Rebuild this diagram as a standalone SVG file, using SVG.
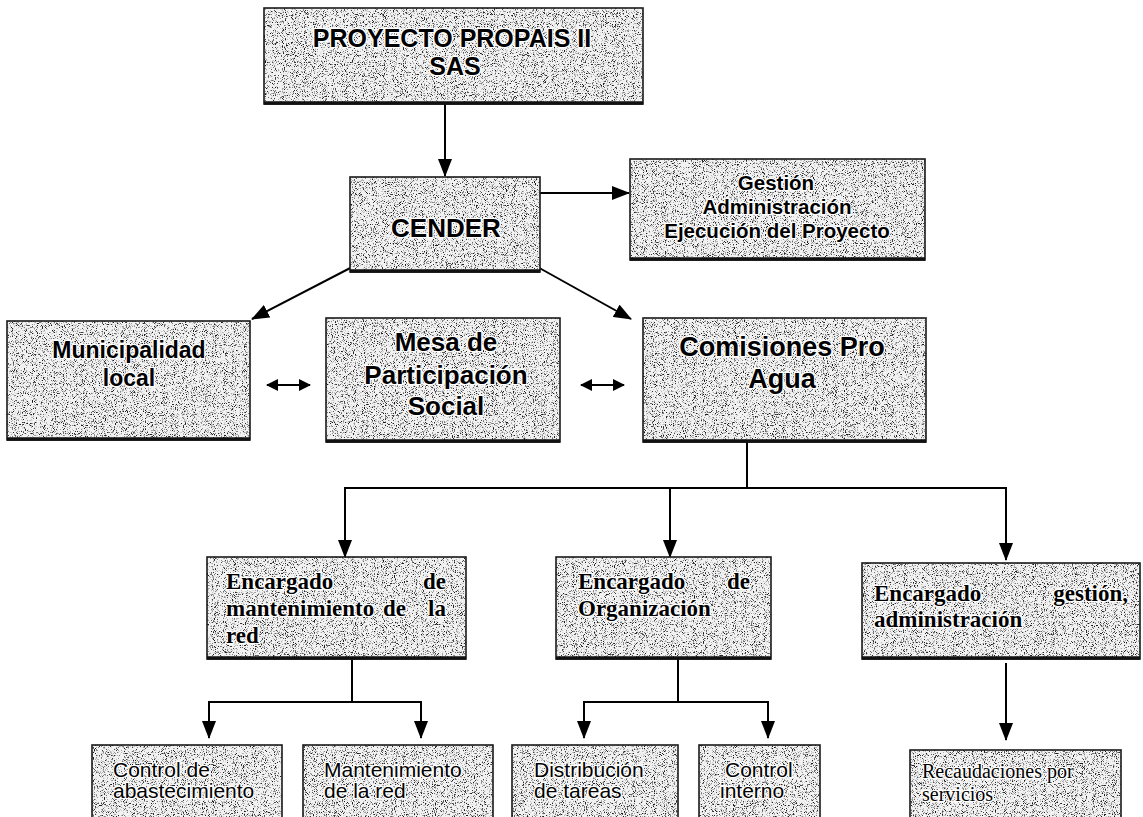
<svg xmlns="http://www.w3.org/2000/svg" width="1143" height="817" viewBox="0 0 1143 817">
<defs>
<style>
.bx{fill:#f2f2f2;filter:url(#grain)}
.bd{fill:none;stroke:#1a1a1a;stroke-width:1.6}
.bb{stroke:#111;stroke-width:3.5}
.sb{font-family:"Liberation Sans",Arial,sans-serif;font-weight:bold;fill:#000;stroke:#fff;stroke-width:2.5;paint-order:stroke;stroke-linejoin:round}
.sr{font-family:"Liberation Sans",Arial,sans-serif;fill:#000;stroke:#fff;stroke-width:2.5;paint-order:stroke;stroke-linejoin:round}
.tb{font-family:"Liberation Serif","Times New Roman",serif;font-weight:bold;fill:#000;stroke:#fff;stroke-width:2.5;paint-order:stroke;stroke-linejoin:round}
.tr{font-family:"Liberation Serif","Times New Roman",serif;fill:#000;stroke:#fff;stroke-width:2.5;paint-order:stroke;stroke-linejoin:round}
.c{text-anchor:middle}
.e{text-anchor:end}
.ln{fill:none;stroke:#000;stroke-width:2}
</style>
<filter id="grain" x="0" y="0" width="100%" height="100%" color-interpolation-filters="sRGB">
<feTurbulence type="fractalNoise" baseFrequency="1.1" numOctaves="2" seed="4" result="noise"/>
<feColorMatrix in="noise" type="matrix" values="0 0 0 0 0.1  0 0 0 0 0.1  0 0 0 0 0.1  -5 0 0 0 2.3" result="dots"/>
<feComposite in="dots" in2="SourceGraphic" operator="in" result="clip"/>
<feMerge><feMergeNode in="SourceGraphic"/><feMergeNode in="clip"/></feMerge>
</filter>
<marker id="ah" viewBox="0 0 18 14" markerWidth="18" markerHeight="14" refX="17" refY="7" orient="auto" markerUnits="userSpaceOnUse">
<path d="M0,0 L18,7 L0,14 z" fill="#000"/>
</marker>
<marker id="ad" viewBox="0 0 12 12" markerWidth="12" markerHeight="12" refX="11" refY="6" orient="auto-start-reverse" markerUnits="userSpaceOnUse">
<path d="M0,0 L12,6 L0,12 z" fill="#000"/>
</marker>
</defs>
<rect width="1143" height="817" fill="#fff"/>

<g id="connectors">
<line class="ln" x1="445" y1="104" x2="445" y2="176" marker-end="url(#ah)"/>
<line class="ln" x1="540" y1="193" x2="629" y2="193" marker-end="url(#ah)"/>
<line class="ln" x1="356" y1="265" x2="252" y2="319" marker-end="url(#ah)"/>
<line class="ln" x1="534" y1="265" x2="631" y2="319" marker-end="url(#ah)"/>
<line class="ln" x1="267" y1="385" x2="310" y2="385" marker-start="url(#ad)" marker-end="url(#ad)"/>
<line class="ln" x1="581" y1="385" x2="624" y2="385" marker-start="url(#ad)" marker-end="url(#ad)"/>
<polyline class="ln" points="747,442 747,488"/>
<polyline class="ln" points="345,557 345,488 1006,488 1006,560" marker-end="url(#ah)"/>
<line class="ln" x1="345" y1="488" x2="345" y2="557" marker-end="url(#ah)"/>
<line class="ln" x1="670" y1="488" x2="670" y2="557" marker-end="url(#ah)"/>
<line class="ln" x1="352" y1="659" x2="352" y2="702"/>
<polyline class="ln" points="209,738 209,702 421,702 421,738" marker-end="url(#ah)"/>
<line class="ln" x1="209" y1="702" x2="209" y2="738" marker-end="url(#ah)"/>
<line class="ln" x1="678" y1="659" x2="678" y2="702"/>
<polyline class="ln" points="584,738 584,702 768,702 768,738" marker-end="url(#ah)"/>
<line class="ln" x1="584" y1="702" x2="584" y2="738" marker-end="url(#ah)"/>
<line class="ln" x1="1006" y1="663" x2="1006" y2="740" marker-end="url(#ah)"/>
</g>

<g id="n-propais">
<rect class="bx" x="264" y="8" width="379" height="96"/>
<rect class="bd" x="264" y="8" width="379" height="96"/>
<line class="bb" x1="264" y1="103" x2="643" y2="103"/>
<text class="sb c" x="452" y="47" font-size="25">PROYECTO PROPAIS II</text>
<text class="sb c" x="455" y="75" font-size="25">SAS</text>
</g>

<g id="n-cender">
<rect class="bx" x="350" y="177" width="190" height="95"/>
<rect class="bd" x="350" y="177" width="190" height="95"/>
<line class="bb" x1="350" y1="271" x2="540" y2="271"/>
<text class="sb c" x="446" y="237" font-size="26">CENDER</text>
</g>

<g id="n-gestion">
<rect class="bx" x="630" y="159" width="295" height="101"/>
<rect class="bd" x="630" y="159" width="295" height="101"/>
<line class="bb" x1="630" y1="259" x2="925" y2="259"/>
<text class="sb c" x="776" y="190" font-size="20.5">Gestión</text>
<text class="sb c" x="777" y="214" font-size="20.5">Administración</text>
<text class="sb c" x="777" y="238" font-size="20.5">Ejecución del Proyecto</text>
</g>

<g id="n-municipalidad">
<rect class="bx" x="7" y="321" width="243" height="119"/>
<rect class="bd" x="7" y="321" width="243" height="119"/>
<line class="bb" x1="7" y1="439" x2="250" y2="439"/>
<text class="sb c" x="129" y="358" font-size="23">Municipalidad</text>
<text class="sb c" x="129" y="386" font-size="23">local</text>
</g>

<g id="n-mesa">
<rect class="bx" x="326" y="318" width="234" height="124"/>
<rect class="bd" x="326" y="318" width="234" height="124"/>
<line class="bb" x1="326" y1="441" x2="560" y2="441"/>
<text class="sb c" x="446" y="351" font-size="26">Mesa de</text>
<text class="sb c" x="446" y="384" font-size="26">Participación</text>
<text class="sb c" x="446" y="415" font-size="26">Social</text>
</g>

<g id="n-comisiones">
<rect class="bx" x="643" y="318" width="283" height="124"/>
<rect class="bd" x="643" y="318" width="283" height="124"/>
<line class="bb" x1="643" y1="441" x2="926" y2="441"/>
<text class="sb c" x="782" y="356" font-size="27">Comisiones Pro</text>
<text class="sb c" x="782" y="388" font-size="27">Agua</text>
</g>

<g id="n-enc-mant">
<rect class="bx" x="207" y="557" width="259" height="102"/>
<rect class="bd" x="207" y="557" width="259" height="102"/>
<line class="bb" x1="207" y1="658" x2="466" y2="658"/>
<text class="tb" x="226" y="589" font-size="23">Encargado</text>
<text class="tb e" x="446" y="589" font-size="23">de</text>
<text class="tb" x="226" y="616" font-size="23">mantenimiento</text>
<text class="tb" x="383" y="616" font-size="23">de</text>
<text class="tb e" x="446" y="616" font-size="23">la</text>
<text class="tb" x="226" y="643" font-size="23">red</text>
</g>

<g id="n-enc-org">
<rect class="bx" x="556" y="557" width="215" height="102"/>
<rect class="bd" x="556" y="557" width="215" height="102"/>
<line class="bb" x1="556" y1="658" x2="771" y2="658"/>
<text class="tb" x="578" y="589" font-size="23">Encargado</text>
<text class="tb e" x="750" y="589" font-size="23">de</text>
<text class="tb" x="578" y="616" font-size="23">Organización</text>
</g>

<g id="n-enc-gest">
<rect class="bx" x="862" y="563" width="278" height="96"/>
<rect class="bd" x="862" y="563" width="278" height="96"/>
<line class="bb" x1="862" y1="658" x2="1140" y2="658"/>
<text class="tb" x="874" y="601" font-size="23">Encargado</text>
<text class="tb e" x="1128" y="601" font-size="23">gestión,</text>
<text class="tb" x="874" y="627" font-size="23">administración</text>
</g>

<g id="n-control-abast">
<rect class="bx" x="92" y="745" width="190" height="80"/>
<rect class="bd" x="92" y="745" width="190" height="80"/>
<text class="sr" x="113" y="777" font-size="21">Control de</text>
<text class="sr" x="113" y="798" font-size="21">abastecimiento</text>
</g>

<g id="n-mant-red">
<rect class="bx" x="303" y="745" width="190" height="80"/>
<rect class="bd" x="303" y="745" width="190" height="80"/>
<text class="sr" x="324" y="777" font-size="21">Mantenimiento</text>
<text class="sr" x="324" y="798" font-size="21">de la red</text>
</g>

<g id="n-distribucion">
<rect class="bx" x="512" y="745" width="166" height="80"/>
<rect class="bd" x="512" y="745" width="166" height="80"/>
<text class="sr" x="534" y="777" font-size="21">Distribución</text>
<text class="sr" x="534" y="798" font-size="21">de tareas</text>
</g>

<g id="n-control-int">
<rect class="bx" x="699" y="745" width="121" height="80"/>
<rect class="bd" x="699" y="745" width="121" height="80"/>
<text class="sr" x="725" y="777" font-size="21">Control</text>
<text class="sr" x="720" y="798" font-size="21">interno</text>
</g>

<g id="n-recaudaciones">
<rect class="bx" x="910" y="750" width="211" height="80"/>
<rect class="bd" x="910" y="750" width="211" height="80"/>
<text class="tr" x="922" y="778" font-size="20">Recaudaciones por</text>
<text class="tr" x="922" y="801" font-size="20">servicios</text>
</g>
</svg>
